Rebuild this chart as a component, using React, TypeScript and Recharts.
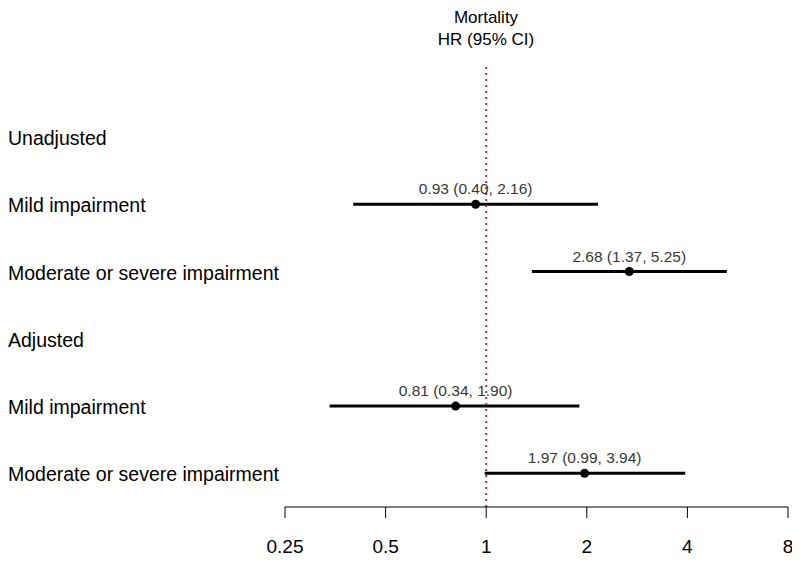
import React from "react";
import {
  ScatterChart,
  Scatter,
  XAxis,
  YAxis,
  ReferenceLine,
} from "recharts";

const rowLabels = [
  "Unadjusted",
  "Mild impairment",
  "Moderate or severe impairment",
  "Adjusted",
  "Mild impairment",
  "Moderate or severe impairment",
];
const hrValues: (number | null)[] = [null, 0.93, 2.68, null, 0.81, 1.97];
const lowerCI: (number | null)[] = [null, 0.4, 1.37, null, 0.34, 0.99];
const upperCI: (number | null)[] = [null, 2.16, 5.25, null, 1.9, 3.94];
const xTicks = [0.25, 0.5, 1, 2, 4, 8];
const titleLines = ["Mortality", "HR (95% CI)"];

const FONT = "'Liberation Sans', Arial, Helvetica, sans-serif";

const rows = rowLabels.map((label, i) => ({
  row: i,
  label,
  hr: hrValues[i],
  lo: lowerCI[i],
  hi: upperCI[i],
}));

const points = rows
  .filter((r) => r.hr !== null)
  .map((r) => ({
    x: r.hr as number,
    y: r.row,
    text: `${(r.hr as number).toFixed(2)} (${(r.lo as number).toFixed(2)}, ${(r.hi as number).toFixed(2)})`,
  }));

const W = 792;
const H = 548;

const RowTick = (props: any) => {
  const { y, payload } = props;
  return (
    <text
      x={0}
      y={y}
      dy={8}
      textAnchor="start"
      fontSize={19.5}
      fill="#000"
      fontFamily={FONT}
    >
      {rowLabels[payload.value]}
    </text>
  );
};

const PointShape = (props: any) => {
  const { cx, cy, payload } = props;
  return (
    <g>
      <text
        x={cx}
        y={cy - 10}
        textAnchor="middle"
        fontSize={15.5}
        fill="#383838"
        fontFamily={FONT}
      >
        {payload.text}
      </text>
      <circle cx={cx} cy={cy} r={4.5} fill="#000" />
    </g>
  );
};

export default function App() {
  return (
    <div style={{ position: "relative", width: W, height: H }}>
      <ScatterChart
        width={W}
        height={H}
        margin={{ top: 57, right: 12, bottom: 0, left: 0 }}
      >
        <XAxis
          dataKey="x"
          type="number"
          scale="log"
          domain={[0.25, 8]}
          allowDataOverflow
          ticks={xTicks}
          interval={0}
          height={49}
          tickSize={11}
          tickMargin={22}
          stroke="#000"
          tick={{ fontSize: 19, fill: "#000", fontFamily: FONT }}
        />
        <YAxis
          dataKey="y"
          type="number"
          domain={[-1.07, 5.5]}
          reversed
          allowDataOverflow
          ticks={rows.map((r) => r.row)}
          interval={0}
          width={277}
          axisLine={false}
          tickLine={false}
          tick={<RowTick />}
        />
        {rows
          .filter((r) => r.lo !== null && r.hi !== null)
          .map((r) => (
            <ReferenceLine
              key={`ci-${r.row}`}
              segment={[
                { x: r.lo as number, y: r.row },
                { x: r.hi as number, y: r.row },
              ]}
              stroke="#000"
              strokeWidth={3}
            />
          ))}
        <Scatter
          data={points}
          isAnimationActive={false}
          shape={<PointShape />}
        />
        <ReferenceLine
          x={1}
          stroke="#b5303f"
          strokeWidth={2}
          strokeDasharray="2 4"
        />
      </ScatterChart>
      <svg
        width={W}
        height={60}
        style={{ position: "absolute", left: 0, top: 0, pointerEvents: "none" }}
      >
        {titleLines.map((t, i) => (
          <text
            key={t}
            x={478}
            y={15 + i * 21.5}
            textAnchor="middle"
            fontSize={17}
            fill="#000"
            fontFamily={FONT}
          >
            {t}
          </text>
        ))}
      </svg>
    </div>
  );
}
